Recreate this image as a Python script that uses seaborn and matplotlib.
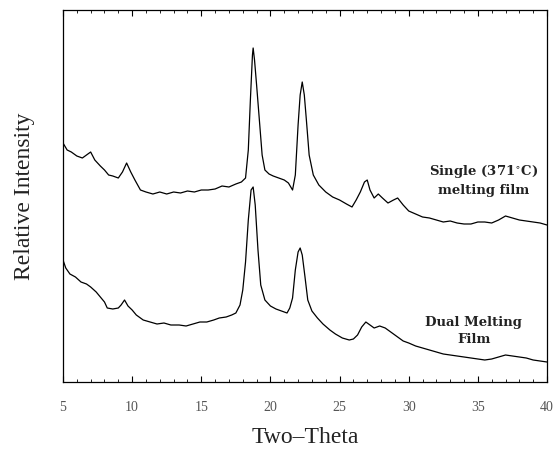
import numpy as np
import pandas as pd
import matplotlib
matplotlib.use("Agg")
import matplotlib.pyplot as plt
from matplotlib.ticker import MultipleLocator
import seaborn as sns

# Diffraction angle (2θ, degrees) and relative intensity (arbitrary units)
single_theta = [5.0, 5.3, 5.6, 6.0, 6.4, 6.8, 7.0, 7.3, 7.7, 8.0, 8.3, 8.6, 9.0, 9.3, 9.6,
                9.9, 10.2, 10.6, 11.0, 11.5, 12.0, 12.5, 13.0, 13.5, 14.0, 14.5, 15.0, 15.5,
                16.0, 16.5, 17.0, 17.5, 17.9, 18.2, 18.4, 18.55, 18.7, 18.75, 18.85, 19.0,
                19.2, 19.4, 19.6, 19.9, 20.2, 20.6, 21.0, 21.3, 21.6, 21.8, 22.0, 22.15,
                22.3, 22.45, 22.6, 22.8, 23.1, 23.5, 24.0, 24.5, 25.0, 25.5, 25.9, 26.2,
                26.5, 26.8, 27.0, 27.2, 27.5, 27.8, 28.1, 28.5, 28.9, 29.2, 29.6, 30.0,
                30.5, 31.0, 31.5, 32.0, 32.5, 33.0, 33.5, 34.0, 34.5, 35.0, 35.5, 36.0,
                36.5, 37.0, 37.5, 38.0, 38.5, 39.0, 39.5, 40.0]
single_level = [143, 150, 152, 156, 158, 154, 152, 160, 166, 170, 175, 176, 178, 172, 163,
                172, 180, 190, 192, 194, 192, 194, 192, 193, 191, 192, 190, 190,
                189, 186, 187, 184, 182, 178, 150, 100, 55, 48, 60, 85,
                120, 155, 170, 174, 176, 178, 180, 183, 190, 175, 125, 95,
                82, 95, 120, 155, 175, 185, 192, 197, 200, 204, 207, 200,
                192, 182, 180, 190, 198, 194, 198, 203, 200, 198, 205, 211,
                214, 217, 218, 220, 222, 221, 223, 224, 224, 222, 222, 223,
                220, 216, 218, 220, 221, 222, 223, 225]

dual_theta = [5.0, 5.2, 5.5, 5.9, 6.3, 6.7, 7.0, 7.4, 7.7, 8.0, 8.2, 8.6, 9.0, 9.2, 9.45,
              9.7, 10.0, 10.3, 10.8, 11.3, 11.8, 12.3, 12.8, 13.4, 13.9, 14.4, 14.9, 15.4,
              15.9, 16.3, 16.8, 17.2, 17.5, 17.8, 18.0, 18.2, 18.4, 18.6, 18.75, 18.9,
              19.1, 19.3, 19.6, 20.0, 20.4, 20.8, 21.2, 21.4, 21.6, 21.8, 22.0, 22.15,
              22.3, 22.5, 22.7, 23.0, 23.4, 23.8, 24.3, 24.7, 25.2, 25.7, 26.0, 26.3,
              26.6, 26.9, 27.2, 27.5, 27.9, 28.3, 28.7, 29.1, 29.6, 30.0, 30.5, 31.0,
              31.5, 32.0, 32.5, 33.0, 33.5, 34.0, 34.5, 35.0, 35.5, 36.0, 36.5, 37.0,
              37.5, 38.0, 38.5, 39.0, 39.5, 40.0]
dual_level = [260, 268, 274, 277, 282, 284, 287, 292, 297, 302, 308, 309, 308, 305, 300,
              306, 310, 315, 320, 322, 324, 323, 325, 325, 326, 324, 322, 322,
              320, 318, 317, 315, 313, 305, 290, 262, 220, 190, 187, 205,
              250, 285, 300, 306, 309, 311, 313, 308, 298, 270, 252, 248,
              255, 277, 300, 311, 318, 324, 330, 334, 338, 340, 339, 335,
              327, 322, 325, 328, 326, 328, 332, 336, 341, 343, 346, 348,
              350, 352, 354, 355, 356, 357, 358, 359, 360, 359, 357, 355,
              356, 357, 358, 360, 361, 362]

# Intensity measured upward from the baseline of the frame
FRAME = 382
single_intensity = [FRAME - v for v in single_level]
dual_intensity = [FRAME - v for v in dual_level]

x_ticks = [5, 10, 15, 20, 25, 30, 35, 40]

df = pd.concat([
    pd.DataFrame({"two_theta": single_theta, "intensity": single_intensity,
                  "film": "single"}),
    pd.DataFrame({"two_theta": dual_theta, "intensity": dual_intensity,
                  "film": "dual"}),
])

sns.set_theme(style="white")
plt.rcParams["font.family"] = ["Liberation Serif", "DejaVu Serif"]

fig = plt.figure(figsize=(5.55, 4.5), dpi=100)
ax = fig.add_axes([63 / 555, 68 / 450, 484 / 555, 372 / 450])

sns.lineplot(data=df, x="two_theta", y="intensity", units="film", estimator=None,
             color="black", linewidth=0.9, ax=ax, sort=False)

ax.set_xlim(5, 40)
ax.set_ylim(0, 372)
ax.set_xticks(x_ticks)
ax.set_xticklabels([str(t) for t in x_ticks])
ax.xaxis.set_minor_locator(MultipleLocator(1))
ax.set_yticks([])
ax.tick_params(axis="x", which="major", direction="in", length=4, width=0.8,
               top=True, bottom=True, labelsize=10, labelcolor="#555555", pad=14,
               color="black")
ax.tick_params(axis="x", which="minor", direction="in", length=2, width=0.6,
               top=True, bottom=True, color="black")

for s in ax.spines.values():
    s.set_color("black")
    s.set_linewidth(0.9)

ax.set_xlabel("Two\u2013Theta", fontsize=17, color="#222222", labelpad=9)
ax.set_ylabel("Relative Intensity", fontsize=17, color="#222222", labelpad=20)

label_font = dict(family="DejaVu Serif", fontsize=9.5, fontweight="bold",
                  color="#222222", ha="center", va="center", linespacing=1.35)
ax.text(35.4, FRAME - 180, "Single (371$^{\\circ}$C)\nmelting film", **label_font)
ax.text(34.7, FRAME - 331, "Dual Melting\nFilm", **label_font)

fig.savefig("out.png", dpi=100)
